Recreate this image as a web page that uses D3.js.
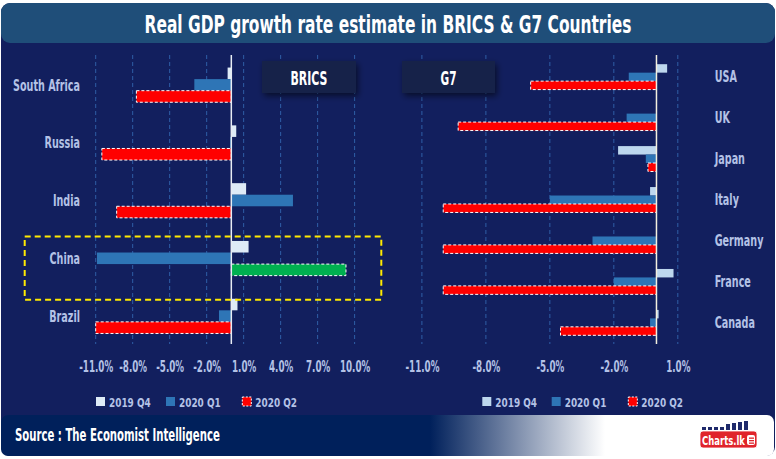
<!DOCTYPE html>
<html>
<head>
<meta charset="utf-8">
<script src="https://cdn.jsdelivr.net/npm/d3@7"></script>
<style>
  html, body { margin: 0; padding: 0; background: #ffffff; }
  svg { display: block; }
</style>
</head>
<body>
<svg id="chart" width="776" height="459"></svg>
<script>
// ---------- DATA ----------
const seriesNames = ["2019 Q4", "2020 Q1", "2020 Q2"];

const bricsCountries = ["South Africa", "Russia", "India", "China", "Brazil"];
const bricsQ4 = [-0.3, 0.4, 1.2, 1.4, 0.5];
const bricsQ1 = [-3.0, -0.1, 5.0, -10.9, -1.0];
const bricsQ2 = [-7.7, -10.5, -9.3, 9.3, -11.0];

const g7Countries = ["USA", "UK", "Japan", "Italy", "Germany", "France", "Canada"];
const g7Q4 = [0.5, 0.0, -1.8, -0.3, 0.0, 0.8, 0.1];
const g7Q1 = [-1.3, -1.4, -0.5, -5.0, -3.0, -2.0, -0.3];
const g7Q2 = [-5.9, -9.3, -0.4, -10.0, -10.0, -10.0, -4.5];

const bricsTicks = [-11, -8, -5, -2, 1, 4, 7, 10];
const g7Ticks = [-11, -8, -5, -2, 1];

const highlightCountry = "China";

// ---------- STYLE ----------
const FONT = "'Liberation Sans Narrow', 'DejaVu Sans Condensed', 'DejaVu Sans', sans-serif";
const NAVY = "#121f5e";
const LABEL = "#b4c2e6";
const C_Q4_L = "#deebf7";
const C_Q4_R = "#bdd7ee";
const C_Q1 = "#2e75b6";
const C_Q2 = "#ff0000";
const C_GREEN = "#00b050";

const svg = d3.select("#chart");
const defs = svg.append("defs");

const shadow = defs.append("filter").attr("id", "shadow")
  .attr("x", "-20%").attr("y", "-30%").attr("width", "150%").attr("height", "180%");
shadow.append("feDropShadow").attr("dx", 2).attr("dy", 3).attr("stdDeviation", 3)
  .attr("flood-color", "#000000").attr("flood-opacity", 0.55);

const grad = defs.append("linearGradient").attr("id", "footGrad")
  .attr("gradientUnits", "userSpaceOnUse").attr("x1", 430).attr("x2", 605).attr("y1", 0).attr("y2", 0);
grad.append("stop").attr("offset", 0).attr("stop-color", "#00205b");
grad.append("stop").attr("offset", 1).attr("stop-color", "#ffffff");

// measure text width in the actual font to derive horizontal condensing factors
function measure(str, size) {
  const t = svg.append("text").attr("font-family", FONT).attr("font-weight", "bold")
    .attr("font-size", size).text(str);
  const w = t.node().getComputedTextLength();
  t.remove();
  return w;
}
const SC_LABEL = 67 / measure("South Africa", 16);
const SC_TICK = 34 / measure("-11.0%", 16);
const SC_LEG = 41.7 / measure("2019 Q4", 13);

function sText(parent, x, y, str, opts) {
  const s = opts.scale || 1;
  const t = parent.append("text")
    .attr("transform", `translate(${x},${y}) scale(${s},1)`)
    .attr("font-family", FONT)
    .attr("font-weight", "bold")
    .attr("font-size", opts.size)
    .attr("fill", opts.fill || LABEL)
    .attr("text-anchor", opts.anchor || "start")
    .text(str);
  if (opts.dy) t.attr("dy", opts.dy);
  return t;
}

// ---------- FRAME ----------
svg.append("rect").attr("x", 1).attr("y", 3).attr("width", 774).attr("height", 453)
  .attr("rx", 9).attr("fill", NAVY);
svg.append("rect").attr("x", 1).attr("y", 3).attr("width", 774).attr("height", 40)
  .attr("rx", 9).attr("fill", "#1f4e79");
const SC_TITLE = 487 / measure("Real GDP growth rate estimate in BRICS & G7 Countries", 25);
sText(svg, 388, 33, "Real GDP growth rate estimate in BRICS & G7 Countries",
  { size: 25, scale: SC_TITLE, anchor: "middle", fill: "#ffffff" });

// ---------- PANEL BUILDER ----------
function panel(cfg) {
  const g = svg.append("g");
  const x = d3.scaleLinear().domain(cfg.domain).range(cfg.range);
  const y = d3.scaleBand().domain(cfg.countries).range(cfg.yRange)
    .paddingInner(cfg.padInner).paddingOuter(cfg.padOuter);
  const ys = d3.scaleBand().domain(seriesNames).range([0, y.bandwidth()]).padding(0);

  // gridlines
  g.selectAll("line.grid").data(cfg.ticks).join("line")
    .attr("x1", d => x(d)).attr("x2", d => x(d))
    .attr("y1", 55).attr("y2", 344)
    .attr("stroke", "#2f5ea6").attr("stroke-width", 1).attr("stroke-dasharray", "4,3");

  // tick labels via axis
  const fmt = d => (d < 0 ? "-" : "") + Math.abs(d).toFixed(1) + "%";
  const axis = d3.axisBottom(x).tickValues(cfg.ticks).tickSize(0).tickPadding(0).tickFormat(fmt);
  const ax = g.append("g").attr("transform", "translate(0,359)").call(axis);
  ax.select(".domain").remove();
  ax.selectAll(".tick text").remove();
  ax.selectAll(".tick").each(function (d) {
    sText(d3.select(this), 0, 12.5, fmt(d), { size: 16, scale: SC_TICK, anchor: "middle" });
  });

  const rows = cfg.countries.map((c, i) => ({
    country: c,
    vals: [cfg.q4[i], cfg.q1[i], cfg.q2[i]]
  }));

  const grp = g.selectAll("g.row").data(rows).join("g")
    .attr("transform", d => `translate(0,${y(d.country)})`);

  grp.selectAll("rect").data(d => d.vals.map((v, k) => ({ v, k, country: d.country }))).join("rect")
    .attr("x", d => x(Math.min(0, d.v)))
    .attr("width", d => Math.abs(x(d.v) - x(0)))
    .attr("y", d => ys(seriesNames[d.k]))
    .attr("height", ys.bandwidth())
    .attr("fill", d => d.k === 0 ? cfg.q4Color : d.k === 1 ? C_Q1 :
      (cfg.greenPositive && d.v > 0 ? C_GREEN : C_Q2))
    .attr("stroke", d => d.k === 2 && d.v !== 0 ? "#ffffff" : "none")
    .attr("stroke-width", 1)
    .attr("stroke-dasharray", "3,2");

  // zero line
  g.append("line").attr("x1", x(0)).attr("x2", x(0)).attr("y1", 55).attr("y2", 344)
    .attr("stroke", cfg.zeroColor).attr("stroke-width", 1.5);

  // category labels
  rows.forEach(d => {
    sText(g, cfg.labelX, y(d.country) + y.bandwidth() / 2, d.country,
      { size: 16, scale: SC_LABEL, anchor: cfg.labelAnchor, dy: "0.35em" });
  });

  // title box
  g.append("rect").attr("x", cfg.box[0]).attr("y", 61).attr("width", cfg.box[1]).attr("height", 32)
    .attr("fill", "#14214a").attr("filter", "url(#shadow)");
  const bs = cfg.boxTextLen / measure(cfg.name, 20);
  sText(g, cfg.box[0] + cfg.box[1] / 2, 85, cfg.name,
    { size: 20, scale: bs, anchor: "middle", fill: "#ffffff" });

  // legend
  const colors = [cfg.q4Color, C_Q1, C_Q2];
  cfg.legendX.forEach((lx, k) => {
    g.append("rect").attr("x", lx).attr("y", 397).attr("width", 9).attr("height", 9)
      .attr("fill", colors[k])
      .attr("stroke", k === 2 ? "#ffffff" : "none").attr("stroke-width", 1).attr("stroke-dasharray", "2,1.5");
    sText(g, lx + 13, 406.5, seriesNames[k], { size: 13, scale: SC_LEG });
  });

  return { x, y };
}

const left = panel({
  name: "BRICS", countries: bricsCountries, q4: bricsQ4, q1: bricsQ1, q2: bricsQ2,
  domain: [-11, 10], range: [95.7, 354.6], yRange: [56, 345], padInner: 0.4, padOuter: 0.2,
  ticks: bricsTicks, q4Color: C_Q4_L, zeroColor: "#e8ecf4", labelX: 80, labelAnchor: "end",
  box: [262, 94], boxTextLen: 37, legendX: [96, 166, 242.3], greenPositive: true
});

panel({
  name: "G7", countries: g7Countries, q4: g7Q4, q1: g7Q1, q2: g7Q2,
  domain: [-11, 1], range: [421.9, 677.8], yRange: [56, 343.5], padInner: 0.38, padOuter: 0.2,
  ticks: g7Ticks, q4Color: C_Q4_R, zeroColor: "#f3efdf", labelX: 714.7, labelAnchor: "start",
  box: [402, 93], boxTextLen: 16, legendX: [482.3, 551.7, 628.3], greenPositive: false
});

// highlight box for China
const hy = left.y(highlightCountry);
svg.append("rect").attr("x", 24.7).attr("y", hy - 4.5)
  .attr("width", 356.6).attr("height", left.y.bandwidth() + 28.5)
  .attr("fill", "none").attr("stroke", "#ffea00").attr("stroke-width", 2)
  .attr("stroke-dasharray", "6,4");

// ---------- FOOTER ----------
svg.append("rect").attr("x", 1).attr("y", 415).attr("width", 773).attr("height", 41)
  .attr("rx", 7).attr("fill", "url(#footGrad)");
const srcText = "Source : The Economist Intelligence";
sText(svg, 15, 441, srcText, { size: 17, scale: 205 / measure(srcText, 17), fill: "#ffffff" });

// logo
const logo = svg.append("g");
const barH = [3, 3, 3, 3, 6, 7, 8, 9];
barH.forEach((h, i) => {
  logo.append("rect").attr("x", 702 + i * 6).attr("y", 430 - h).attr("width", 4).attr("height", h)
    .attr("fill", "#1f2a6b");
});
logo.append("rect").attr("x", 700).attr("y", 431).attr("width", 57).attr("height", 17)
  .attr("rx", 3).attr("fill", "#e0242b").attr("stroke", "#ffffff").attr("stroke-width", 0.8);
sText(logo, 702, 444.5, "Charts.lk", { size: 13, scale: 43 / measure("Charts.lk", 13), fill: "#ffffff" });
logo.append("rect").attr("x", 747).attr("y", 435).attr("width", 8).attr("height", 10)
  .attr("rx", 2).attr("fill", "#ffffff");
[437.5, 440, 442.5].forEach(yy => {
  logo.append("rect").attr("x", 749).attr("y", yy).attr("width", 5).attr("height", 1.3).attr("fill", "#e0242b");
});
</script>
</body>
</html>
